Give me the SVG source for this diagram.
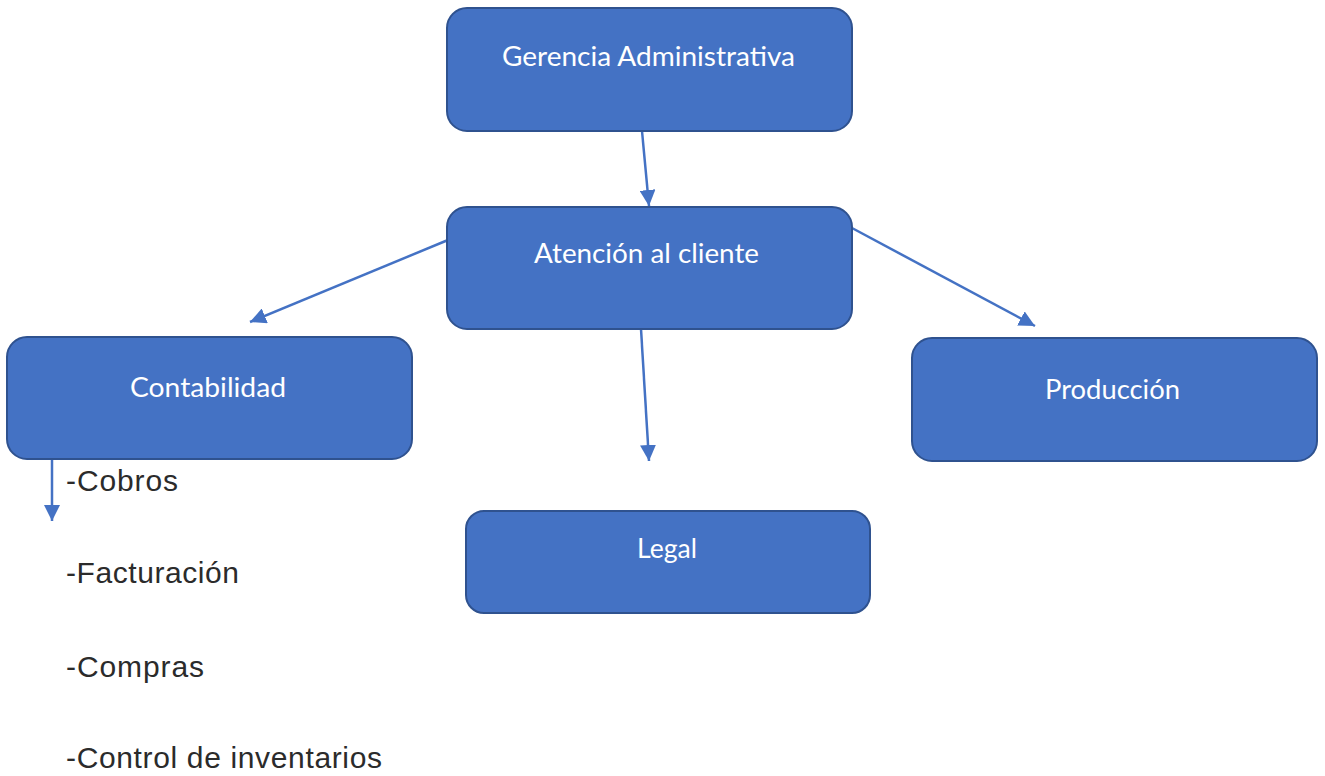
<svg xmlns="http://www.w3.org/2000/svg" width="1325" height="776" viewBox="0 0 1325 776">
<style>
.box{fill:#4472C4;stroke:#2F528F;stroke-width:2}
.lbl{font-family:Lato,"Open Sans",sans-serif;font-size:26px;fill:#ffffff;text-anchor:start}
.item{font-family:"Liberation Sans",Arial,sans-serif;font-size:30px;fill:#2b2b2b}
.conn{stroke:#4472C4;stroke-width:2.5;fill:none;marker-end:url(#ah)}
</style>
<defs>
<marker id="ah" markerUnits="userSpaceOnUse" markerWidth="18" markerHeight="16" refX="16" refY="8" orient="auto">
<path d="M0,0 L16,8 L0,16 Z" fill="#4472C4"/>
</marker>
</defs>
<rect width="1325" height="776" fill="#ffffff"/>
<g id="connectors">
<line class="conn" x1="642" y1="131" x2="649" y2="206"/>
<line class="conn" x1="448" y1="240" x2="250" y2="322"/>
<line class="conn" x1="852" y1="228" x2="1035" y2="326"/>
<line class="conn" x1="641" y1="329" x2="649" y2="461"/>
<line class="conn" x1="52" y1="459" x2="52" y2="521"/>
</g>
<g id="gerencia">
<rect class="box" x="447" y="8" width="405" height="123" rx="20"/>
<text class="lbl" x="502" y="66" textLength="293" lengthAdjust="spacingAndGlyphs">Gerencia Administrativa</text>
</g>
<g id="atencion">
<rect class="box" x="447" y="207" width="405" height="122" rx="20"/>
<text class="lbl" x="534" y="263" textLength="225" lengthAdjust="spacingAndGlyphs">Atención al cliente</text>
</g>
<g id="contabilidad">
<rect class="box" x="7" y="337" width="405" height="122" rx="20"/>
<text class="lbl" x="130" y="397" textLength="156" lengthAdjust="spacingAndGlyphs">Contabilidad</text>
</g>
<g id="produccion">
<rect class="box" x="912" y="338" width="405" height="123" rx="20"/>
<text class="lbl" x="1045" y="399" textLength="135" lengthAdjust="spacingAndGlyphs">Producción</text>
</g>
<g id="legal">
<rect class="box" x="466" y="511" width="404" height="102" rx="18"/>
<text class="lbl" x="637" y="558" textLength="60" lengthAdjust="spacingAndGlyphs">Legal</text>
</g>
<g id="lista">
<text class="item" x="66" y="491" textLength="112" lengthAdjust="spacing">-Cobros</text>
<text class="item" x="66" y="583" textLength="173" lengthAdjust="spacing">-Facturación</text>
<text class="item" x="66" y="677" textLength="138" lengthAdjust="spacing">-Compras</text>
<text class="item" x="66" y="768" textLength="316" lengthAdjust="spacing">-Control de inventarios</text>
</g>
</svg>
